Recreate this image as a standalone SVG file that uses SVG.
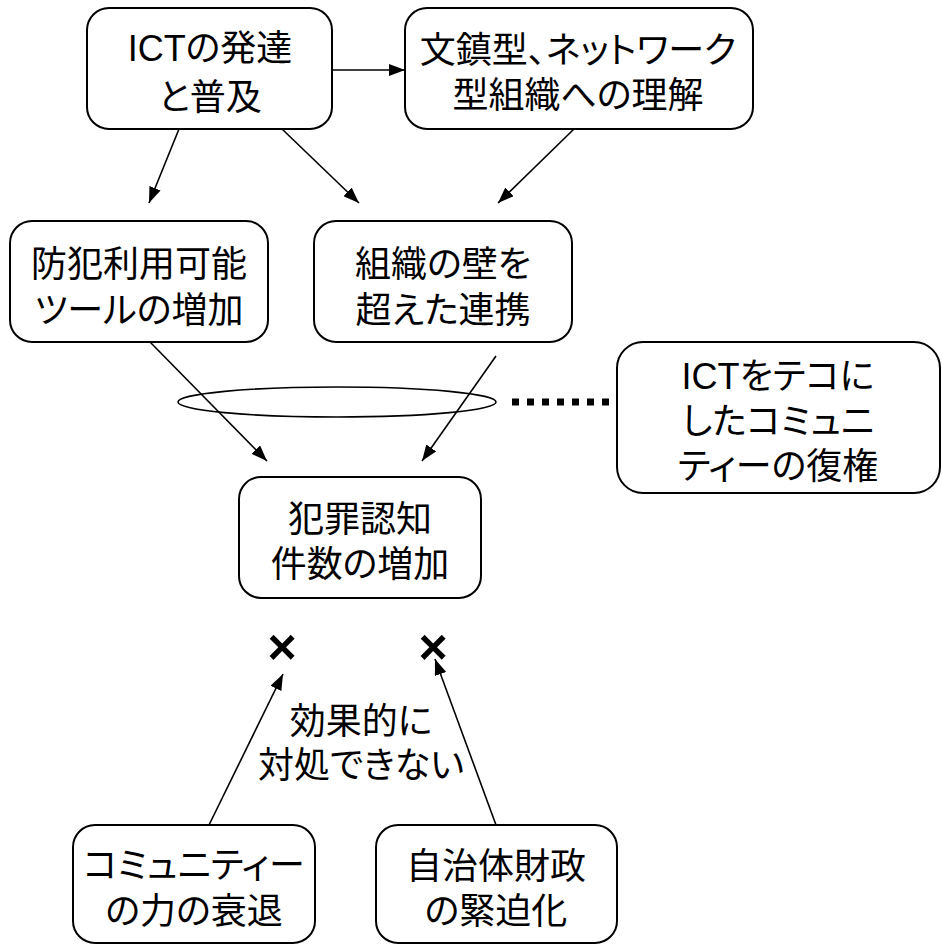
<svg xmlns="http://www.w3.org/2000/svg" width="942" height="945" viewBox="0 0 942 945">
<style>
.box{fill:#fff;stroke:#000;stroke-width:2}
.t{font-family:"Liberation Sans","Noto Sans CJK JP",sans-serif;font-size:36px;fill:#000;text-anchor:middle;font-feature-settings:"palt"}
.x{font-family:"Liberation Sans",sans-serif;font-size:50px;font-weight:bold;fill:#000;text-anchor:middle}
.c{stroke:#000;stroke-width:1.6;fill:none}
</style>
<defs>
<marker id="ah" markerUnits="userSpaceOnUse" markerWidth="16" markerHeight="12" refX="16" refY="6" orient="auto">
<path d="M0,0 L16,6 L0,12 z" fill="#000"/>
</marker>
</defs>
<rect width="942" height="945" fill="#fff"/>
<g id="connectors">
<line class="c" x1="332" y1="70" x2="405" y2="70" marker-end="url(#ah)"/>
<line class="c" x1="179" y1="129" x2="149" y2="203" marker-end="url(#ah)"/>
<line class="c" x1="282" y1="129" x2="359" y2="203" marker-end="url(#ah)"/>
<line class="c" x1="574" y1="129" x2="498" y2="203" marker-end="url(#ah)"/>
<line class="c" x1="150" y1="342" x2="267" y2="461" marker-end="url(#ah)"/>
<line class="c" x1="496" y1="356" x2="422" y2="461" marker-end="url(#ah)"/>
<line class="c" x1="209" y1="825" x2="283" y2="674" marker-end="url(#ah)"/>
<line class="c" x1="496" y1="825" x2="435" y2="659" marker-end="url(#ah)"/>
<ellipse class="c" cx="337" cy="402" rx="159" ry="15" stroke-width="2"/>
<line x1="512" y1="402" x2="617" y2="402" stroke="#000" stroke-width="7" stroke-dasharray="7 8"/>
</g>
<g id="n1">
<rect class="box" x="87" y="8" width="245" height="121" rx="22"/>
<text class="t" x="210" y="61">ICTの発達</text>
<text class="t" x="210" y="110">と普及</text>
</g>
<g id="n2">
<rect class="box" x="405" y="8" width="348" height="121" rx="22"/>
<text class="t" x="578" y="63">文鎮型、ネットワーク</text>
<text class="t" x="578" y="108">型組織への理解</text>
</g>
<g id="n3">
<rect class="box" x="10" y="221" width="258" height="121" rx="22"/>
<text class="t" x="139" y="277">防犯利用可能</text>
<text class="t" x="139" y="323">ツールの増加</text>
</g>
<g id="n4">
<rect class="box" x="314" y="221" width="258" height="121" rx="22"/>
<text class="t" x="443" y="277">組織の壁を</text>
<text class="t" x="443" y="323">超えた連携</text>
</g>
<g id="n5">
<rect class="box" x="617" y="342" width="323" height="151" rx="26"/>
<text class="t" x="778" y="389">ICTをテコに</text>
<text class="t" x="778" y="434">したコミュニ</text>
<text class="t" x="778" y="479">ティーの復権</text>
</g>
<g id="n6">
<rect class="box" x="239" y="477" width="242" height="121" rx="22"/>
<text class="t" x="360" y="532">犯罪認知</text>
<text class="t" x="360" y="577">件数の増加</text>
</g>
<g id="cross1"><text class="x" x="282" y="664">×</text></g>
<g id="cross2"><text class="x" x="433" y="664">×</text></g>
<g id="label">
<text class="t" x="361" y="734">効果的に</text>
<text class="t" x="361" y="778">対処できない</text>
</g>
<g id="n7">
<rect class="box" x="73" y="825" width="242" height="118" rx="22"/>
<text class="t" x="194" y="878">コミュニティー</text>
<text class="t" x="194" y="924">の力の衰退</text>
</g>
<g id="n8">
<rect class="box" x="376" y="825" width="241" height="118" rx="22"/>
<text class="t" x="496" y="879">自治体財政</text>
<text class="t" x="496" y="924">の緊迫化</text>
</g>
</svg>
